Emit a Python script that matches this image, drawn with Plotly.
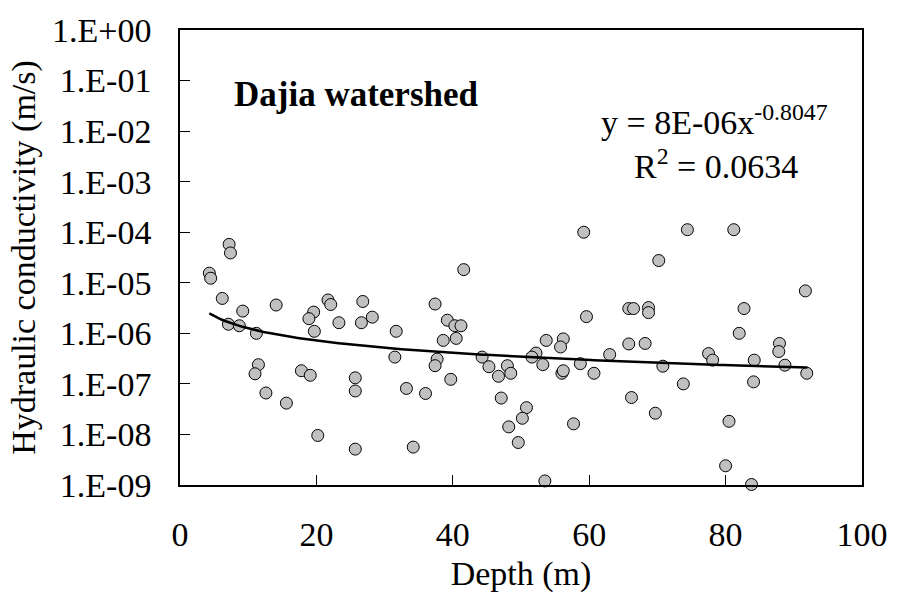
import numpy as np
import plotly.graph_objects as go

# Depth (m) and log10 of hydraulic conductivity (m/s)
depth = [7.2, 7.4, 4.3, 4.5, 6.2, 9.2, 7.1, 8.7, 11.2, 14.1, 21.7, 22.1, 19.6, 18.9,
         19.7, 23.3, 11.5, 11.0, 17.8, 19.1, 12.6, 15.6, 20.2,
         26.8, 26.6, 28.2, 31.7, 31.5, 25.7, 25.7, 33.2, 36.0, 25.7, 34.2, 37.4,
         41.6, 39.2, 40.3, 41.2, 38.6, 40.5, 37.7, 37.4, 39.7, 44.3, 45.3, 48.0,
         46.7, 48.5, 47.1, 48.2, 49.6,
         59.2, 70.2, 59.6, 65.8, 66.5, 68.7, 68.7, 53.7, 56.2, 55.8, 65.8, 68.2,
         52.2, 51.6, 53.2, 63.0, 58.7, 60.7, 56.0, 56.2, 70.8, 66.2, 69.7, 50.8,
         50.2, 57.7, 53.5,
         74.4, 81.2, 91.7, 82.7, 82.0, 87.9, 87.8, 77.5, 78.1, 84.2, 88.7, 91.9,
         73.8, 84.1, 80.5, 80.0, 83.8]
log_k = [-4.24, -4.41, -4.81, -4.91, -5.31, -5.56, -5.82, -5.85, -6.00, -5.44, -5.34,
         -5.43, -5.58, -5.71, -5.96, -5.79, -6.62, -6.80, -6.74, -6.83, -7.18, -7.38,
         -8.02,
         -5.37, -5.79, -5.68, -5.96, -6.47, -6.88, -7.14, -7.09, -7.19, -8.29, -8.25,
         -5.42, -4.74, -5.74, -5.85, -5.85, -6.14, -6.10, -6.51, -6.64, -6.91, -6.47,
         -6.66, -6.64, -6.85, -6.79, -7.28, -7.85, -8.16,
         -4.00, -4.56, -5.67, -5.51, -5.51, -5.49, -5.59, -6.14, -6.11, -6.27, -6.21,
         -6.20, -6.39, -6.47, -6.62, -6.42, -6.60, -6.79, -6.79, -6.74, -6.65, -7.27,
         -7.58, -7.47, -7.68, -7.79, -8.92,
         -3.95, -3.95, -5.16, -5.51, -6.00, -6.20, -6.36, -6.40, -6.53, -6.53, -6.63,
         -6.79, -7.00, -6.96, -7.74, -8.62, -8.99]

# Power trend line: y = 8E-06 x^-0.8047
fit_a = 8e-6
fit_b = -0.8047
fit_x_range = [4.3, 92.0]

y_tick_exps = list(range(-9, 1))
y_tick_text = ["1.E+00" if e == 0 else "1.E-%02d" % (-e) for e in y_tick_exps]
x_tick_vals = [0, 20, 40, 60, 80, 100]

k = [10 ** v for v in log_k]
xf = np.linspace(fit_x_range[0], fit_x_range[1], 200)
yf = fit_a * xf ** fit_b

FONT = "Liberation Serif, Times New Roman, serif"

fig = go.Figure()
fig.add_trace(go.Scatter(
    x=depth, y=k, mode="markers", cliponaxis=False,
    marker=dict(size=12, color="#C0C0C0", line=dict(color="black", width=1)),
    showlegend=False))
fig.add_trace(go.Scatter(
    x=xf, y=yf, mode="lines", line=dict(color="black", width=2.5),
    showlegend=False))

fig.update_layout(
    width=900, height=606,
    margin=dict(l=180, r=33, t=23, b=121),
    paper_bgcolor="white", plot_bgcolor="white",
    font=dict(family=FONT, size=32, color="black"),
    xaxis=dict(range=[0, 100], tickvals=x_tick_vals, ticks="inside", ticklen=10,
               tickcolor="black", showline=True, linecolor="black", linewidth=1.5,
               mirror=True, showgrid=False, zeroline=False,
               ticklabelstandoff=18,
               title=dict(text="Depth (m)", standoff=10,
                          font=dict(family=FONT, size=34)),
               tickfont=dict(family=FONT, size=34)),
    yaxis=dict(type="log", range=[-9, 0], tickvals=[10 ** e for e in y_tick_exps],
               ticktext=y_tick_text, ticks="inside", ticklen=10, tickcolor="black",
               showline=True, linecolor="black", linewidth=1.5, mirror=True,
               showgrid=False, zeroline=False,
               ticklabelstandoff=20,
               title=dict(text="Hydraulic conductivity (m/s)", standoff=6,
                          font=dict(family=FONT, size=34)),
               tickfont=dict(family=FONT, size=34)),
    annotations=[
        dict(text="<b>Dajia watershed</b>", x=358, y=88, showarrow=False,
             font=dict(size=35)),
        dict(text="y = 8E-06x<sup>-0.8047</sup>", x=718, y=114, showarrow=False,
             font=dict(size=34)),
        dict(text="R<sup>2</sup> = 0.0634", x=720, y=159, showarrow=False,
             font=dict(size=34)),
    ],
)

# convert pixel-positioned annotations to paper coordinates
pw, ph = 900 - 180 - 33, 606 - 23 - 121
for a in fig.layout.annotations:
    a.xref = "paper"; a.yref = "paper"
    a.x = (a.x - 180) / pw
    a.y = 1 - (a.y - 23) / ph
    a.xanchor = "center"; a.yanchor = "middle"

fig.write_html("out.html")
